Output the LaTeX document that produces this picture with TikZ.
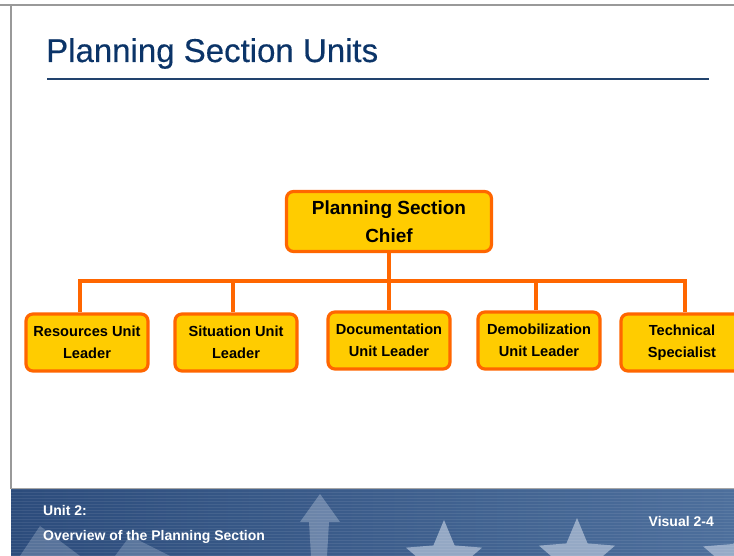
\documentclass[tikz,border=0pt]{standalone}
\usepackage{fontspec}
\setmainfont{Liberation Sans}
\newfontfamily\titlefont[FakeBold=0.35]{Liberation Sans}
\usetikzlibrary{calc}
\definecolor{titleblue}{HTML}{0B3468}
\definecolor{boxfill}{HTML}{FFCC00}
\definecolor{boxline}{HTML}{FF6600}
\definecolor{bandA}{HTML}{2C4C7C}
\definecolor{bandB}{HTML}{4D6F9C}
\definecolor{starc}{HTML}{A9BAD2}
\tikzset{
  orgbox/.style={draw=boxline, line width=3.2pt, fill=boxfill, rounded corners=7pt,
    align=center, font=\bfseries, text=black, inner sep=0pt},
  conn/.style={draw=boxline, line width=3.2pt},
  foot/.style={text=white, font=\bfseries\fontsize{14}{16}\selectfont, inner sep=0pt}
}
\newcommand{\mystar}[3]{% x, y, radius
  \fill[starc, opacity=0.8] ($(#1,#2)+(90:#3)$)
    -- ($(#1,#2)+(126:#3*0.45)$) -- ($(#1,#2)+(162:#3)$)
    -- ($(#1,#2)+(198:#3*0.45)$) -- ($(#1,#2)+(234:#3)$)
    -- ($(#1,#2)+(270:#3*0.45)$) -- ($(#1,#2)+(306:#3)$)
    -- ($(#1,#2)+(342:#3*0.45)$) -- ($(#1,#2)+(18:#3)$)
    -- ($(#1,#2)+(54:#3*0.45)$) -- cycle;}
\begin{document}
\begin{tikzpicture}[x=1pt,y=1pt]
\useasboundingbox (0,0) rectangle (734,556);
\fill[white] (0,0) rectangle (734,556);
% frame
\draw[gray!80, line width=2pt] (0,551) -- (734,551);
\draw[gray!80, line width=2pt] (11,551) -- (11,67);
% footer band
\begin{scope}
\clip (11,0) rectangle (734,67);
\shade[left color=bandA, right color=bandB] (11,0) rectangle (734,67);
\fill[starc, opacity=0.45] (320,62) -- (340,34) -- (329,34) -- (327,0) -- (311,0) -- (309,34) -- (300,34) -- cycle;
\fill[starc, opacity=0.35] (40,30) -- (80,0) -- (20,0) -- cycle;
\fill[starc, opacity=0.35] (130,20) -- (170,0) -- (115,0) -- cycle;
\mystar{444}{-4}{40}
\mystar{577}{-2}{40}
\mystar{745}{-4}{44}
\foreach \yy in {1,4,...,67} {\draw[white, opacity=0.08, line width=0.8pt] (11,\yy) -- (734,\yy);}
\end{scope}
\draw[gray!70, line width=1pt] (11,67) -- (734,67);
% title
\node[anchor=base west, inner sep=0pt, text=titleblue, font=\titlefont\fontsize{33}{36}\selectfont] (title) at (46,494) {Planning Section Units};
\draw[titleblue!80!gray, line width=2pt] (47,477) -- (709,477);
% boxes
\node[orgbox, minimum width=205pt, minimum height=60pt, font=\bfseries\fontsize{19}{28}\selectfont] (chief) at (389,334.5) {Planning Section\\Chief};
\begin{scope}[every node/.append style={orgbox, minimum width=122pt, minimum height=57pt, font=\bfseries\fontsize{14.6}{22}\selectfont}]
\node (res) at (87,213.5) {Resources Unit\\Leader};
\node (sit) at (236,213.5) {Situation Unit\\Leader};
\node (doc) at (389,215.5) {Documentation\\Unit Leader};
\node (dem) at (539,215.5) {Demobilization\\Unit Leader};
\node (tech) at (682,213.5) {Technical\\Specialist};
\end{scope}
% connectors
\draw[conn] (chief.south) -- (doc.north);
\draw[conn] (res.north -| 80,0) -- (80,275) -- (685,275) -- (tech.north -| 685,0);
\draw[conn] (233,275) -- (sit.north -| 233,0);
\draw[conn] (536,275) -- (dem.north -| 536,0);
% footer text
\node[foot, anchor=base west] (u2) at (43,40) {Unit 2:};
\node[foot, anchor=base west] (ov) at (43,15) {Overview of the Planning Section};
\node[foot, anchor=base east] (vis) at (714,29) {Visual 2-4};
\end{tikzpicture}
\end{document}
